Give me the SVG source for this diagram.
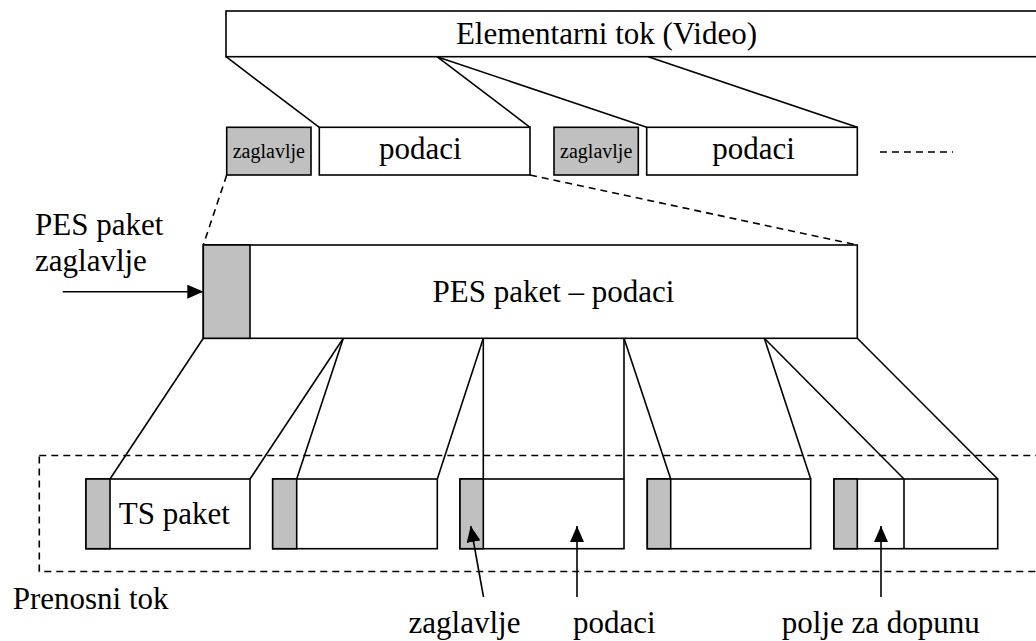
<svg xmlns="http://www.w3.org/2000/svg" width="1036" height="641" viewBox="0 0 1036 641">
<defs>
<style>
.b{fill:#fff;stroke:#000;stroke-width:1.6}
.g{fill:#c0c0c0;stroke:#000;stroke-width:1.6}
.l{fill:none;stroke:#000;stroke-width:1.6}
.d{fill:none;stroke:#000;stroke-width:1.6;stroke-dasharray:7 5}
.t{font-family:"Liberation Serif","Times New Roman",serif;font-size:31px;fill:#000}
.s{font-family:"Liberation Serif","Times New Roman",serif;font-size:20px;fill:#000}
</style>
<marker id="ah" viewBox="0 0 16 14" refX="16" refY="7" markerWidth="16" markerHeight="14" markerUnits="userSpaceOnUse" orient="auto">
<path d="M0,0 L16,7 L0,14 Z" fill="#000"/>
</marker>
</defs>
<rect width="1036" height="641" fill="#fff"/>

<g id="elementarni-tok">
<rect class="b" x="226" y="11" width="820" height="45.7"/>
<text class="t" x="606.5" y="43.5" text-anchor="middle">Elementarni tok (Video)</text>
</g>

<g id="pes1-zaglavlje">
<rect class="g" x="226.7" y="127.3" width="84.3" height="47.7"/>
<text class="s" x="268.8" y="158" text-anchor="middle">zaglavlje</text>
</g>
<g id="pes1-podaci">
<rect class="b" x="319.3" y="127.3" width="210.7" height="47.7"/>
<text class="t" x="420.3" y="159" text-anchor="middle">podaci</text>
</g>
<g id="pes2-zaglavlje">
<rect class="g" x="554" y="127.3" width="84.3" height="47.7"/>
<text class="s" x="596.2" y="158" text-anchor="middle">zaglavlje</text>
</g>
<g id="pes2-podaci">
<rect class="b" x="646.7" y="127.3" width="210.6" height="47.7"/>
<text class="t" x="753.5" y="159" text-anchor="middle">podaci</text>
</g>

<g id="pes-paket">
<rect class="b" x="203.3" y="245" width="654" height="93.3"/>
<rect class="g" x="203.3" y="245" width="46.7" height="93.3"/>
<text class="t" x="553.5" y="302" text-anchor="middle">PES paket – podaci</text>
</g>
<g id="pes-label">
<text class="t" x="35" y="235">PES paket</text>
<text class="t" x="35" y="271">zaglavlje</text>
</g>

<g id="prenosni-tok">
<rect class="d" x="39.3" y="455.5" width="1010" height="116"/>
<text class="t" x="12.7" y="609">Prenosni tok</text>
</g>

<g id="ts1">
<rect class="b" x="86" y="479" width="164" height="69.7"/>
<rect class="g" x="86" y="479" width="24" height="69.7"/>
<text class="t" x="174.3" y="524" text-anchor="middle">TS paket</text>
</g>
<g id="ts2">
<rect class="b" x="272.7" y="479" width="164.6" height="69.7"/>
<rect class="g" x="272.7" y="479" width="24" height="69.7"/>
</g>
<g id="ts3">
<rect class="b" x="460" y="479" width="164" height="69.7"/>
<rect class="g" x="460" y="479" width="23.3" height="69.7"/>
</g>
<g id="ts4">
<rect class="b" x="647.3" y="479" width="163.4" height="69.7"/>
<rect class="g" x="647.3" y="479" width="23.4" height="69.7"/>
</g>
<g id="ts5">
<rect class="b" x="834" y="479" width="163.7" height="69.7"/>
<rect class="g" x="834" y="479" width="23.3" height="69.7"/>
<line class="l" x1="904" y1="479" x2="904" y2="548.7"/>
</g>

<g id="labels">
<text class="t" x="464.5" y="633" text-anchor="middle">zaglavlje</text>
<text class="t" x="573" y="633">podaci</text>
<text class="t" x="880.8" y="633" text-anchor="middle">polje za dopunu</text>
</g>

<g id="connectors">
<line class="l" x1="226" y1="56.7" x2="319.3" y2="127.3"/>
<line class="l" x1="437" y1="56.7" x2="530" y2="127.3"/>
<line class="l" x1="437" y1="56.7" x2="646.7" y2="127.3"/>
<line class="l" x1="648.3" y1="56.7" x2="857.3" y2="127.3"/>
<line class="d" x1="226.7" y1="175" x2="203.3" y2="245"/>
<line class="d" x1="530" y1="175" x2="857.3" y2="245"/>
<line class="d" x1="880" y1="152" x2="953" y2="152"/>
<line class="l" x1="203.3" y1="338.3" x2="110" y2="479"/>
<line class="l" x1="343.3" y1="338.3" x2="250" y2="479"/>
<line class="l" x1="343.3" y1="338.3" x2="296.7" y2="479"/>
<line class="l" x1="483.3" y1="338.3" x2="437.3" y2="479"/>
<line class="l" x1="483.3" y1="338.3" x2="483.3" y2="479"/>
<line class="l" x1="624" y1="338.3" x2="624" y2="479"/>
<line class="l" x1="624" y1="338.3" x2="670.7" y2="479"/>
<line class="l" x1="764.3" y1="338.3" x2="810.7" y2="479"/>
<line class="l" x1="764.3" y1="338.3" x2="904" y2="479"/>
<line class="l" x1="857.3" y1="338.3" x2="997.7" y2="479"/>
<line class="l" x1="62.7" y1="291.7" x2="203.3" y2="291.7" marker-end="url(#ah)"/>
<line class="l" x1="483.5" y1="597" x2="470.7" y2="526" marker-end="url(#ah)"/>
<line class="l" x1="577" y1="597" x2="577" y2="526" marker-end="url(#ah)"/>
<line class="l" x1="881" y1="597" x2="881" y2="526" marker-end="url(#ah)"/>
</g>
</svg>
